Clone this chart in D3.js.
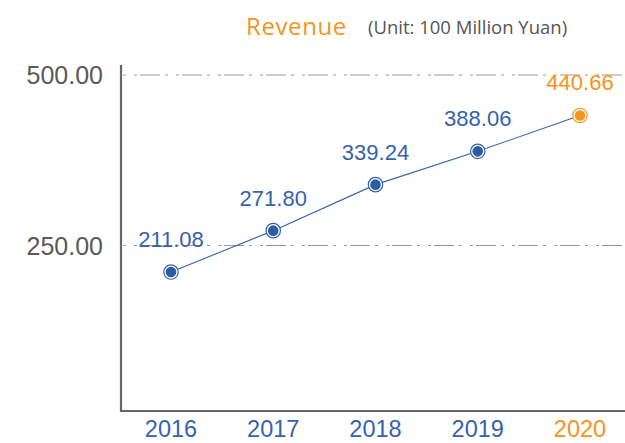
<!DOCTYPE html>
<html>
<head>
<meta charset="utf-8">
<script src="https://cdn.jsdelivr.net/npm/d3@7"></script>
<style>
  body { margin: 0; background: #fff; }
  text { font-family: "Liberation Sans", Arial, sans-serif; }
  .title { font-family: "Open Sans", sans-serif; }
</style>
</head>
<body>
<div id="chart"></div>
<script>
// Chart data
const years = ['2016', '2017', '2018', '2019', '2020'];
const revenue = [211.08, 271.80, 339.24, 388.06, 440.66];
const yTicks = [250, 500];

const width = 625, height = 443;
const margin = {top: 65, right: 0, bottom: 32, left: 121};

const blue = '#3563ab';
const orange = '#f7941d';
const highlight = '2020';

const svg = d3.select('#chart').append('svg')
    .attr('width', width)
    .attr('height', height);

// Scales
const xScale = d3.scalePoint()
    .domain(years)
    .range([171, 580]);

const yScale = d3.scaleLinear()
    .domain([0, 500])
    .range([416, 75]);

const baseY = height - margin.bottom; // x-axis line position

// Title
svg.append('text')
    .attr('class', 'title')
    .attr('x', 246)
    .attr('y', 35)
    .attr('fill', orange)
    .style('font-size', '24px')
    .style('letter-spacing', '0.6px')
    .text('Revenue');

svg.append('text')
    .attr('class', 'title')
    .attr('x', 368)
    .attr('y', 34)
    .attr('fill', '#555')
    .style('font-size', '18.5px')
    .text('(Unit: 100 Million Yuan)');

// Gridlines (dash-dot)
svg.append('g')
  .selectAll('line')
    .data(yTicks)
  .join('line')
    .attr('x1', margin.left + 2)
    .attr('x2', width)
    .attr('y1', d => yScale(d))
    .attr('y2', d => yScale(d))
    .attr('stroke', '#999')
    .attr('stroke-width', 1.2)
    .attr('stroke-dasharray', '3,8,3,3,20,5');

// Y tick labels
svg.append('g')
  .selectAll('text')
    .data(yTicks)
  .join('text')
    .attr('x', 103)
    .attr('y', d => yScale(d))
    .attr('dy', '0.36em')
    .attr('text-anchor', 'end')
    .attr('fill', '#595959')
    .style('font-size', '25px')
    .text(d => d3.format('.2f')(d));

// Axis lines
svg.append('line')
    .attr('x1', margin.left).attr('x2', margin.left)
    .attr('y1', margin.top).attr('y2', baseY + 1)
    .attr('stroke', '#666')
    .attr('stroke-width', 2.2);

svg.append('line')
    .attr('x1', margin.left - 1).attr('x2', width)
    .attr('y1', baseY).attr('y2', baseY)
    .attr('stroke', '#666')
    .attr('stroke-width', 2.2);

// X labels
svg.append('g')
  .selectAll('text')
    .data(years)
  .join('text')
    .attr('x', d => xScale(d))
    .attr('y', 437)
    .attr('text-anchor', 'middle')
    .attr('fill', d => d === highlight ? orange : blue)
    .style('font-size', '23.5px')
    .text(d => d);

const points = years.map((y, i) => ({year: y, value: revenue[i]}));

// Line
const line = d3.line()
    .x(d => xScale(d.year))
    .y(d => yScale(d.value));

svg.append('path')
    .datum(points)
    .attr('d', line)
    .attr('fill', 'none')
    .attr('stroke', blue)
    .attr('stroke-width', 1.1);

// Markers: outer ring + filled dot
const marker = svg.append('g')
  .selectAll('g')
    .data(points)
  .join('g')
    .attr('transform', d => `translate(${xScale(d.year)},${yScale(d.value)})`);

marker.append('circle')
    .attr('r', 7.2)
    .attr('fill', '#fff')
    .attr('stroke', d => d.year === highlight ? orange : blue)
    .attr('stroke-width', 1.2);

marker.append('circle')
    .attr('r', 5.3)
    .attr('fill', d => d.year === highlight ? orange : '#2d5ba6');

// Value labels
svg.append('g')
  .selectAll('text')
    .data(points)
  .join('text')
    .attr('x', d => xScale(d.year))
    .attr('y', d => yScale(d.value) - 25)
    .attr('text-anchor', 'middle')
    .attr('fill', d => d.year === highlight ? orange : blue)
    .style('font-size', '22px')
    .text(d => d3.format('.2f')(d.value));
</script>
</body>
</html>
